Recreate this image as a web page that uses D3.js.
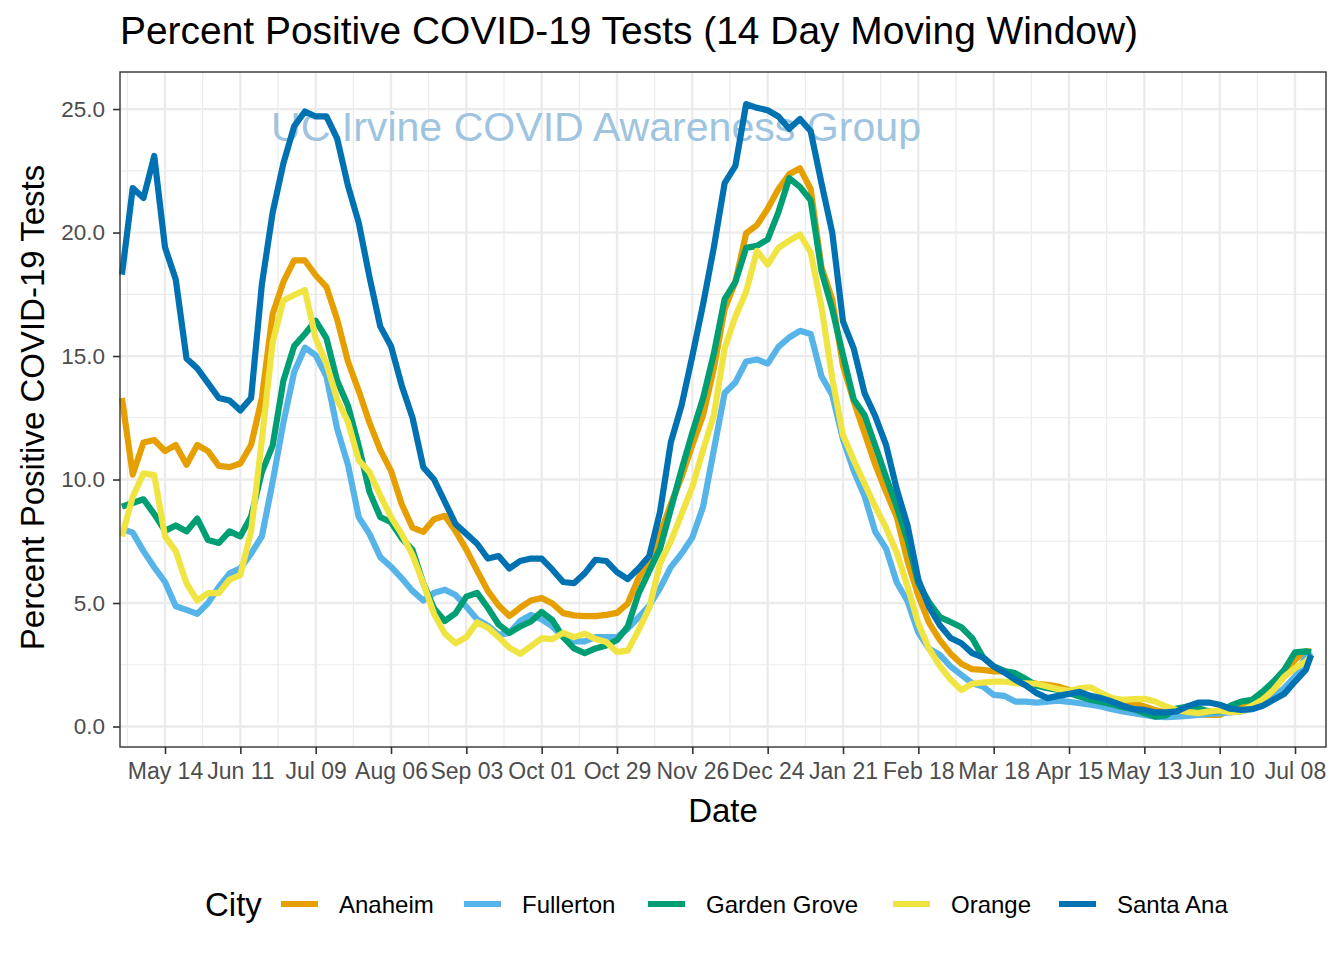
<!DOCTYPE html>
<html><head><meta charset="utf-8">
<script src="https://cdn.jsdelivr.net/npm/d3@7"></script>
<style>
body{margin:0;background:#fff;}
svg{display:block;font-family:"Liberation Sans",Arial,Helvetica,sans-serif;}
</style>
</head><body>
<svg id="chart" width="1344" height="960"></svg>
<script>
// ---------------- DATA ----------------
const cities = ["Anaheim", "Fullerton", "Garden Grove", "Orange", "Santa Ana"];
const cityColors = ["#E69F00", "#56B4E9", "#009E73", "#F0E442", "#0072B2"];

// observation dates: every 4 days from firstDate, plus the last reported day
const firstDate = "2020-04-28";
const stepDays = 4;
const stepCount = 111;
const lastDate = "2021-07-14";

const anaheim = [
  13.3, 10.2, 11.5, 11.6, 11.15, 11.4, 10.6, 11.4, 11.15, 10.55,
  10.5, 10.65, 11.4, 13.3, 16.7, 18.0, 18.87, 18.87, 18.27, 17.8,
  16.48, 14.78, 13.59, 12.3, 11.2, 10.35, 9.0, 8.05, 7.88, 8.39,
  8.53, 7.91, 7.16, 6.31, 5.49, 4.9, 4.47, 4.81, 5.1, 5.2,
  4.98, 4.59, 4.5, 4.47, 4.47, 4.52, 4.6, 4.98, 6.0, 6.8,
  7.8, 9.0, 10.1, 11.4, 12.6, 14.5, 16.9, 18.0, 19.97, 20.3,
  20.96, 21.76, 22.36, 22.6, 21.76, 18.6, 17.3, 14.6, 13.16, 11.88,
  10.6, 9.5, 8.48, 6.69, 5.3, 4.2, 3.5, 2.95, 2.54, 2.32,
  2.29, 2.23, 2.23, 2.05, 1.82, 1.73, 1.69, 1.62, 1.48, 1.35,
  1.21, 1.15, 1.08, 1.01, 0.94, 0.81, 0.67, 0.57, 0.54, 0.51,
  0.5, 0.47, 0.47, 0.67, 0.9, 1.08, 1.35, 1.69, 2.02, 2.7,
  3.04, 3.04
];
const fullerton = [
  8.0, 7.85, 7.1, 6.45, 5.85, 4.87, 4.72, 4.56, 5.0, 5.65,
  6.2, 6.4, 7.0, 7.7, 9.9, 12.3, 14.35, 15.34, 15.03, 14.18,
  12.05, 10.6, 8.48, 7.8, 6.86, 6.47, 6.0, 5.49, 5.1, 5.41,
  5.54, 5.32, 4.85, 4.34, 4.08, 3.71, 3.79, 4.27, 4.52, 4.34,
  4.05, 3.62, 3.45, 3.45, 3.62, 3.62, 3.62, 3.96, 4.42, 4.9,
  5.6, 6.45, 7.0, 7.65, 8.9, 11.2, 13.5, 13.93, 14.78, 14.86,
  14.69, 15.37, 15.75, 16.02, 15.89, 14.18, 13.42, 11.63, 10.35, 9.33,
  7.88, 7.2, 5.83, 5.07, 3.8, 3.15, 2.9, 2.43, 2.09, 1.75,
  1.62, 1.28, 1.24, 1.01, 1.01, 0.97, 1.01, 1.05, 1.0, 0.94,
  0.88, 0.81, 0.7, 0.61, 0.54, 0.47, 0.4, 0.38, 0.4, 0.43,
  0.47, 0.51, 0.54, 0.57, 0.61, 0.74, 0.94, 1.21, 1.55, 2.02,
  2.83, 3.0
];
const gardenGrove = [
  8.9, 9.05, 9.2, 8.6, 7.92, 8.14, 7.9, 8.42, 7.55, 7.43,
  7.9, 7.7, 8.5, 10.3, 11.37, 14.0, 15.4, 15.89, 16.43, 15.72,
  14.0, 12.99, 11.37, 9.5, 8.48, 8.27, 7.62, 7.15, 5.8, 4.78,
  4.27, 4.59, 5.26, 5.41, 4.81, 4.13, 3.79, 4.05, 4.25, 4.64,
  4.3, 3.62, 3.16, 2.97, 3.16, 3.28, 3.5, 4.05, 5.38, 6.3,
  7.2, 8.8, 10.4, 11.9, 13.3, 15.1, 17.3, 18.0, 19.38, 19.46,
  19.72, 20.83, 22.2, 21.85, 21.3, 18.44, 16.9, 15.03, 13.24, 12.61,
  11.37, 10.1, 8.9, 7.54, 5.8, 5.03, 4.43, 4.23, 4.02, 3.58,
  2.81, 2.43, 2.25, 2.16, 1.92, 1.65, 1.55, 1.48, 1.35, 1.21,
  1.08, 0.99, 0.9, 0.78, 0.7, 0.54, 0.4, 0.45, 0.73, 0.81,
  0.74, 0.61, 0.62, 0.84, 1.01, 1.08, 1.42, 1.82, 2.29, 3.0,
  3.04, 3.0
];
const orange = [
  7.7, 9.3, 10.25, 10.18, 7.7, 7.1, 5.8, 5.1, 5.4, 5.4,
  5.95, 6.13, 7.9, 11.6, 15.55, 17.25, 17.47, 17.67, 15.72, 14.69,
  13.24, 12.34, 10.78, 10.3, 9.36, 8.48, 7.79, 6.94, 5.8, 4.56,
  3.76, 3.37, 3.62, 4.22, 4.0, 3.62, 3.19, 2.94, 3.25, 3.57,
  3.54, 3.79, 3.62, 3.76, 3.54, 3.42, 3.02, 3.07, 3.9, 4.8,
  6.6, 7.5, 8.6, 9.7, 11.2, 12.6, 15.3, 16.6, 17.6, 19.26,
  18.7, 19.38, 19.67, 19.92, 19.2, 17.0, 14.1, 11.8, 10.78, 9.84,
  8.9, 8.05, 7.03, 5.66, 4.17, 3.15, 2.45, 1.9, 1.48, 1.73,
  1.78, 1.82, 1.82, 1.75, 1.75, 1.73, 1.62, 1.51, 1.44, 1.55,
  1.59, 1.35, 1.15, 1.08, 1.11, 1.12, 1.01, 0.81, 0.67, 0.59,
  0.54, 0.61, 0.65, 0.58, 0.61, 0.84, 1.08, 1.48, 2.02, 2.36,
  2.63, 2.83
];
const santaAna = [
  18.3, 21.8, 21.4, 23.1, 19.4, 18.1, 14.9, 14.5, 13.9, 13.3,
  13.2, 12.8, 13.3, 17.9, 20.8, 22.8, 24.3, 24.9, 24.7, 24.7,
  23.8, 21.9, 20.4, 18.2, 16.2, 15.4, 13.8, 12.5, 10.5, 10.0,
  9.1, 8.2, 7.8, 7.4, 6.8, 6.9, 6.4, 6.7, 6.8, 6.8,
  6.35, 5.85, 5.8, 6.2, 6.75, 6.7, 6.25, 5.97, 6.4, 6.9,
  8.7, 11.5, 13.0, 15.0, 17.1, 19.4, 22.0, 22.7, 25.2, 25.05,
  24.95, 24.7, 24.2, 24.6, 24.1, 22.0, 20.0, 16.4, 15.3, 13.5,
  12.56, 11.4, 9.6, 8.13, 5.95, 4.84, 4.1, 3.58, 3.37, 2.97,
  2.8, 2.43, 2.19, 1.89, 1.66, 1.35, 1.15, 1.24, 1.32, 1.4,
  1.24, 1.15, 1.01, 0.84, 0.7, 0.67, 0.57, 0.57, 0.61, 0.81,
  0.97, 0.97, 0.88, 0.72, 0.67, 0.7, 0.84, 1.08, 1.32, 1.82,
  2.29, 2.9
];
const seriesValues = [anaheim, fullerton, gardenGrove, orange, santaAna];

const xTickDates = ["2020-05-14","2020-06-11","2020-07-09","2020-08-06","2020-09-03",
  "2020-10-01","2020-10-29","2020-11-26","2020-12-24","2021-01-21","2021-02-18",
  "2021-03-18","2021-04-15","2021-05-13","2021-06-10","2021-07-08"];
const yTicks = [0, 5, 10, 15, 20, 25];
const yMinorTicks = [2.5, 7.5, 12.5, 17.5, 22.5];
const xDomain = ["2020-04-27T06:35:00Z", "2021-07-19T12:30:00Z"];
const yDomain = [-0.83, 26.5];

const titleText = "Percent Positive COVID-19 Tests (14 Day Moving Window)";
const watermarkText = "UC Irvine COVID Awareness Group";
const xTitle = "Date";
const yTitle = "Percent Positive COVID-19 Tests";
const legendTitle = "City";

// ---------------- LAYOUT ----------------
const W = 1344, H = 960;
const panel = {left: 120, right: 1326, top: 72, bottom: 747};
const svg = d3.select("#chart");
svg.append("rect").attr("width", W).attr("height", H).attr("fill", "#fff");

const x = d3.scaleUtc().domain(xDomain.map(s => new Date(s))).range([panel.left, panel.right]);
const y = d3.scaleLinear().domain(yDomain).range([panel.bottom, panel.top]);

const parseDay = s => new Date(s + "T00:00:00Z");
const dates = d3.range(stepCount).map(i => d3.utcDay.offset(parseDay(firstDate), i * stepDays));
dates.push(parseDay(lastDate));
const tickDates = xTickDates.map(parseDay);
const minorDates = tickDates.map(d => d3.utcDay.offset(d, -14))
  .concat([d3.utcDay.offset(tickDates[tickDates.length - 1], 14)])
  .filter(d => x(d) > panel.left && x(d) < panel.right);

// panel background
svg.append("rect").attr("x", panel.left).attr("y", panel.top)
  .attr("width", panel.right - panel.left).attr("height", panel.bottom - panel.top)
  .attr("fill", "#fff");

const grid = svg.append("g");
// minor grid
grid.selectAll("line.ymin").data(yMinorTicks).join("line")
  .attr("x1", panel.left).attr("x2", panel.right)
  .attr("y1", d => y(d)).attr("y2", d => y(d))
  .attr("stroke", "#EBEBEB").attr("stroke-width", 1.2);
grid.selectAll("line.xmin").data(minorDates).join("line")
  .attr("y1", panel.top).attr("y2", panel.bottom)
  .attr("x1", d => x(d)).attr("x2", d => x(d))
  .attr("stroke", "#EBEBEB").attr("stroke-width", 1.2);
// major grid
grid.selectAll("line.ymaj").data(yTicks).join("line")
  .attr("x1", panel.left).attr("x2", panel.right)
  .attr("y1", d => y(d)).attr("y2", d => y(d))
  .attr("stroke", "#EBEBEB").attr("stroke-width", 2.3);
grid.selectAll("line.xmaj").data(tickDates).join("line")
  .attr("y1", panel.top).attr("y2", panel.bottom)
  .attr("x1", d => x(d)).attr("x2", d => x(d))
  .attr("stroke", "#EBEBEB").attr("stroke-width", 2.3);

// watermark
svg.append("text").attr("x", 271).attr("y", 141)
  .attr("font-size", 40).attr("fill", "rgb(158,196,223)")
  .attr("textLength", 650).attr("lengthAdjust", "spacingAndGlyphs")
  .text(watermarkText);

// lines
const line = d3.line().x((d, i) => x(dates[i])).y(d => y(d));
svg.append("g").selectAll("path").data(seriesValues).join("path")
  .attr("d", d => line(d))
  .attr("fill", "none")
  .attr("stroke", (d, i) => cityColors[i])
  .attr("stroke-width", 6.2)
  .attr("stroke-linejoin", "round")
  .attr("stroke-linecap", "butt");

// panel border
svg.append("rect").attr("x", panel.left).attr("y", panel.top)
  .attr("width", panel.right - panel.left).attr("height", panel.bottom - panel.top)
  .attr("fill", "none").attr("stroke", "#333333").attr("stroke-width", 1.4);

// axes
const xAxis = d3.axisBottom(x).tickValues(tickDates)
  .tickFormat(d3.utcFormat("%b %d")).tickSize(7).tickPadding(9);
const gx = svg.append("g").attr("transform", `translate(0,${panel.bottom})`).call(xAxis);
gx.select(".domain").remove();
gx.selectAll(".tick line").attr("stroke", "#333333").attr("stroke-width", 1.6);
gx.selectAll(".tick text").attr("fill", "#4D4D4D").attr("font-size", 23)
  .attr("font-family", "Liberation Sans, Arial, sans-serif");

const yAxis = d3.axisLeft(y).tickValues(yTicks).tickFormat(d3.format(".1f")).tickSize(7).tickPadding(8);
const gy = svg.append("g").attr("transform", `translate(${panel.left},0)`).call(yAxis);
gy.select(".domain").remove();
gy.selectAll(".tick line").attr("stroke", "#333333").attr("stroke-width", 1.6);
gy.selectAll(".tick text").attr("fill", "#4D4D4D").attr("font-size", 22.5)
  .attr("font-family", "Liberation Sans, Arial, sans-serif");

// titles
svg.append("text").attr("x", 120).attr("y", 44).attr("font-size", 38.5).attr("fill", "#000")
  .attr("textLength", 1018).attr("lengthAdjust", "spacingAndGlyphs").text(titleText);
svg.append("text").attr("x", (panel.left + panel.right) / 2).attr("y", 822)
  .attr("text-anchor", "middle").attr("font-size", 33).attr("fill", "#000").text(xTitle);
svg.append("text").attr("transform", `translate(44,${(panel.top + panel.bottom) / 2 - 2}) rotate(-90)`)
  .attr("text-anchor", "middle").attr("font-size", 33).attr("fill", "#000").text(yTitle);

// legend
const legendY = 904;
const keyX = [281, 464, 648, 893, 1059];
const keyLen = 37;
svg.append("text").attr("x", 205).attr("y", legendY + 12).attr("font-size", 33)
  .attr("fill", "#000").text(legendTitle);
const lg = svg.append("g").selectAll("g").data(cities).join("g");
lg.append("line")
  .attr("x1", (d, i) => keyX[i]).attr("x2", (d, i) => keyX[i] + keyLen)
  .attr("y1", legendY).attr("y2", legendY)
  .attr("stroke", (d, i) => cityColors[i]).attr("stroke-width", 6.2);
lg.append("text")
  .attr("x", (d, i) => keyX[i] + keyLen + 21).attr("y", legendY + 8.5)
  .attr("font-size", 24).attr("fill", "#000").text(d => d);
</script>
</body></html>
